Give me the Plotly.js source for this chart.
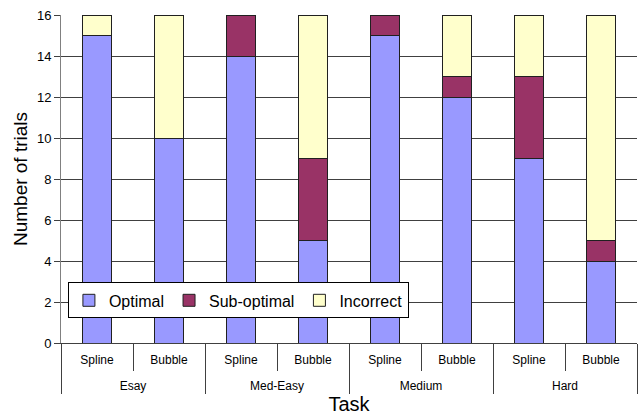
<!DOCTYPE html>
<html><head><meta charset="utf-8">
<script src="https://cdn.plot.ly/plotly-3.0.1.min.js"></script>
<style>html,body{margin:0;padding:0;background:#fff}#c{width:639px;height:417px}</style>
</head><body><div id="c"></div>
<script>
const groups = ["Esay","Esay","Med-Easy","Med-Easy","Medium","Medium","Hard","Hard"];
const methods = ["Spline","Bubble","Spline","Bubble","Spline","Bubble","Spline","Bubble"];
const optimal = [15,10,14,5,15,12,9,4];
const subOptimal = [0,0,2,4,1,1,4,1];
const incorrect = [1,6,0,7,0,3,3,11];

const groupLabels = groups.map(g => "<br>" + g);
const line = {color:"#202020", width:1};
const traces = [
  {name:"Optimal", y:optimal, color:"#9999FF"},
  {name:"Sub-optimal", y:subOptimal, color:"#993366"},
  {name:"Incorrect", y:incorrect, color:"#FFFFCC"}
].map(s => ({type:"bar", x:[groupLabels, methods], y:s.y, name:s.name,
  marker:{color:s.color, line:line}, width:0.4}));

const layout = {
  width:639, height:417,
  margin:{l:61, r:2, t:15, b:74},
  barmode:"stack",
  paper_bgcolor:"#fff", plot_bgcolor:"#fff",
  font:{family:"Arial, Liberation Sans, sans-serif", color:"#000"},
  showlegend:true,
  legend:{orientation:"h", x:0.012, y:0.075, xanchor:"left", yanchor:"bottom",
    bgcolor:"#fff", bordercolor:"#000", borderwidth:1, itemwidth:30,
    font:{size:16, family:"Arial, Liberation Sans, sans-serif"}, traceorder:"normal"},
  xaxis:{type:"multicategory", showline:true, linecolor:"#404040", linewidth:1,
    ticks:"outside", tickson:"boundaries", ticklen:27, tickcolor:"#404040",
    ticklabelstandoff:6,
    showdividers:true, dividercolor:"#404040", dividerwidth:1,
    tickfont:{size:12}, showgrid:false,
    title:{text:"Task", font:{size:20}, standoff:4}},
  yaxis:{range:[0,16], dtick:2, showgrid:true, gridcolor:"#404040", gridwidth:1,
    showline:true, linecolor:"#808080", ticks:"outside", ticklen:6, tickcolor:"#404040",
    tickfont:{size:13}, zeroline:false,
    title:{text:"Number of trials", font:{size:19}, standoff:4}}
};
Plotly.newPlot("c", traces, layout, {displayModeBar:false});
</script></body></html>
